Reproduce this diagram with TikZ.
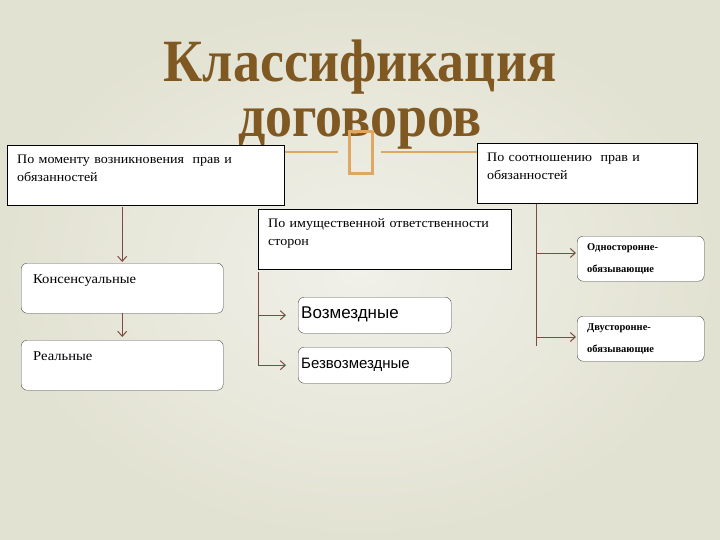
\documentclass[tikz,border=0pt]{standalone}
\usepackage{fontspec}
\setmainfont{Liberation Serif}
\newfontfamily\boxfont[FakeStretch=1.08]{Liberation Serif}
\newfontfamily\titlefont[FakeStretch=0.9]{Liberation Serif}
\newfontfamily\leaffont{Liberation Sans}
\usetikzlibrary{arrows.meta}
\definecolor{titlebrown}{RGB}{127,88,34}
\definecolor{ornament}{RGB}{222,168,98}
\definecolor{linkbrown}{RGB}{125,75,65}
\definecolor{bginner}{RGB}{241,240,233}
\definecolor{bgouter}{RGB}{226,226,210}

\begin{document}
\begin{tikzpicture}[x=1pt,y=-1pt,>={Straight Barb[length=5pt,width=9pt]},
  title node/.style={anchor=base,align=center,text width=600pt,text=titlebrown,
    font=\titlefont\bfseries\fontsize{60}{55}\selectfont},
  head node/.style={rectangle,draw=black,fill=white,anchor=north west,align=left,
    inner xsep=10pt,inner ysep=0pt,text height=18pt,text depth=42pt,
    font=\boxfont\fontsize{13}{18}\selectfont},
  leaf node/.style={rectangle,rounded corners=6pt,draw=black!70,fill=white,
    anchor=north west,align=left,inner ysep=0pt},
  wide leaf/.style={leaf node,inner xsep=12pt,text width=178pt,text height=20pt,
    text depth=30pt,font=\boxfont\fontsize{13.5}{18}\selectfont},
  short leaf/.style={leaf node,inner xsep=3pt,text width=147pt,text height=21pt,
    text depth=15pt,font=\leaffont\fontsize{15}{18}\selectfont},
  tall leaf/.style={leaf node,inner xsep=10pt,text width=107pt,text height=14pt,
    text depth=31pt,font=\bfseries\fontsize{10.5}{22}\selectfont},
  link/.style={->,color=linkbrown,line width=1pt,shorten >=1pt},
  branch/.style={draw=linkbrown,line width=1pt}]

% background
\shade[inner color=bginner,outer color=bgouter] (0,0) rectangle (720,540);
\useasboundingbox (0,0) rectangle (720,540);

% title
\node[title node] (title) at (360,82) {Классификация\\договоров};
\draw[ornament,line width=1.5pt] (285,152) -- (338,152) (381,152) -- (477,152);
\draw[ornament,line width=3pt] (349.5,131.5) rectangle (372.5,173.5);

% criteria
\node[head node,text width=257pt] (moment) at (7,145)
  {По моменту возникновения \ прав и\\обязанностей};
\node[head node,text width=233pt] (property) at (258,209)
  {По имущественной ответственности\\сторон};
\node[head node,text width=200pt] (ratio) at (477,143)
  {По соотношению \ прав и\\обязанностей};

% kinds
\node[wide leaf] (consensual) at (21,263) {Консенсуальные};
\node[wide leaf] (real) at (21,340) {Реальные};
\node[short leaf,font=\leaffont\fontsize{17}{18}\selectfont] (paid) at (298,297) {Возмездные};
\node[short leaf] (free) at (298,347) {Безвозмездные};
\node[tall leaf] (unilateral) at (577,236) {Односторонне-\\обязывающие};
\node[tall leaf] (bilateral) at (577,316) {Двусторонне-\\обязывающие};

% first branch
\path[link]
  (consensual.north |- moment.south) edge [shorten <=2pt] (consensual.north)
  (consensual) edge [shorten >=3pt] (real);

% second branch
\coordinate (p1) at (property.south west |- paid.west);
\coordinate (p2) at (property.south west |- free.west);
\draw[branch] ([yshift=-3pt]property.south west) -- (p2);
\path[link]
  (p1) edge [shorten >=12pt] (paid.west)
  (p2) edge [shorten >=12pt] (free.west);

% third branch
\coordinate (r0) at (536,204);
\coordinate (r1) at (536,253);
\coordinate (r2) at (536,337);
\draw[branch] (r0) -- ([yshift=-9pt]r2);
\path[link]
  (r1) edge (r1 -| unilateral.west)
  (r2) edge (r2 -| bilateral.west);

\end{tikzpicture}
\end{document}
